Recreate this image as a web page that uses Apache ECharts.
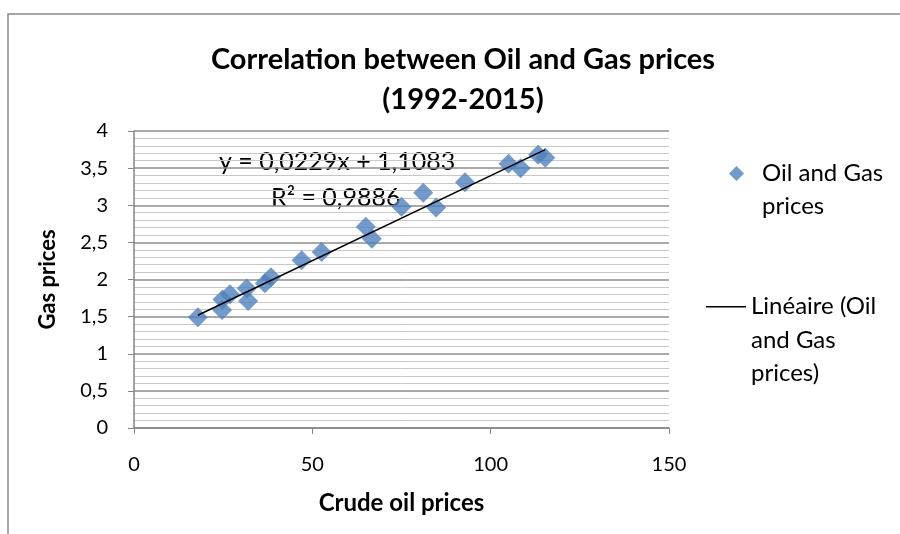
<!DOCTYPE html>
<html>
<head>
<meta charset="utf-8">
<script src="https://cdn.jsdelivr.net/npm/echarts@6/dist/echarts.min.js"></script>
<style>
  html, body { margin: 0; padding: 0; background: #fff; }
  #chart { width: 900px; height: 534px; }
</style>
</head>
<body>
<div id="chart"></div>
<script>
// crude oil price (x) and gas price (y)
var oilPrices = [17.9, 24.7, 24.8, 26.9, 31.6, 32.0, 36.7, 38.4, 47.0, 52.6,
                 65.0, 66.7, 75.0, 81.1, 84.7, 92.8, 105.0, 108.4, 113.3, 115.3];
var gasPrices = [1.49, 1.59, 1.73, 1.80, 1.88, 1.71, 1.95, 2.03, 2.26, 2.37,
                 2.71, 2.55, 2.98, 3.17, 2.97, 3.31, 3.56, 3.50, 3.68, 3.64];
var xTicks = [0, 50, 100, 150];
var yTicks = [0, 0.5, 1, 1.5, 2, 2.5, 3, 3.5, 4];
// trendline coefficients as printed on the chart
var slope = 0.0229;
var intercept = 1.1083;
var trendText = ['y = 0,0229x + 1,1083', 'R² = 0,9886'];

var FONT = 'Lato';

var points = oilPrices.map(function (x, i) { return [x, gasPrices[i]]; });
var xMin = Math.min.apply(null, oilPrices);
var xMax = Math.max.apply(null, oilPrices);
var trend = [[xMin, slope * xMin + intercept], [xMax, slope * xMax + intercept]];

var chart = echarts.init(document.getElementById('chart'));

chart.setOption({
  animation: false,
  textStyle: { fontFamily: FONT },
  title: {
    text: 'Correlation between Oil and Gas prices\n(1992-2015)',
    left: 458,
    textAlign: 'center',
    top: 35,
    textStyle: { fontSize: 29, fontWeight: 'bold', color: '#000', lineHeight: 40, fontFamily: FONT }
  },
  legend: [{
    // blank first line keeps the icon level with the first text line
    data: ['Oil and Gas prices'],
    left: 724,
    top: 119,
    orient: 'vertical',
    itemWidth: 15,
    itemHeight: 15,
    formatter: function () { return ' \nOil and Gas\nprices'; },
    textStyle: { fontSize: 24, color: '#000', lineHeight: 33, padding: [0, 0, 0, 13], fontFamily: FONT }
  }, {
    data: [{ name: 'Linéaire (Oil and Gas prices)', icon: 'rect' }],
    left: 701,
    top: 218,
    orient: 'vertical',
    itemWidth: 40,
    itemHeight: 1.5,
    formatter: function () { return ' \n \nLinéaire (Oil\nand Gas\nprices)'; },
    textStyle: { fontSize: 24, color: '#000', lineHeight: 33.5, fontFamily: FONT }
  }],
  grid: { left: 134, right: 231, top: 131, bottom: 106 },
  xAxis: {
    type: 'value',
    min: xTicks[0],
    max: xTicks[xTicks.length - 1],
    interval: 50,
    name: 'Crude oil prices',
    nameLocation: 'middle',
    nameGap: 63,
    nameTextStyle: { fontSize: 24, fontWeight: 'bold', color: '#000', fontFamily: FONT },
    axisLine: { lineStyle: { color: '#868686', width: 1.5 } },
    axisTick: { show: true, length: 6, lineStyle: { color: '#868686' } },
    axisLabel: { fontSize: 20, color: '#000', margin: 27 },
    splitLine: { show: false }
  },
  yAxis: {
    type: 'value',
    min: yTicks[0],
    max: yTicks[yTicks.length - 1],
    interval: 0.5,
    name: 'Gas prices',
    nameLocation: 'middle',
    nameGap: 75,
    nameTextStyle: { fontSize: 22, fontWeight: 'bold', color: '#000', fontFamily: FONT },
    axisLine: { show: true, lineStyle: { color: '#868686', width: 1.5 } },
    axisTick: { show: true, length: 6, lineStyle: { color: '#868686' } },
    axisLabel: {
      fontSize: 20, color: '#000', margin: 26,
      formatter: function (v) { return String(v).replace('.', ','); }
    },
    splitLine: { show: true, lineStyle: { color: '#8c8c8c', width: 1.5 } },
    minorTick: { show: false, splitNumber: 5 },
    minorSplitLine: { show: true, lineStyle: { color: '#c8c8c8', width: 1 } }
  },
  graphic: [{
    type: 'rect',
    shape: { x: 8, y: 14, width: 920, height: 560 },
    style: { fill: 'none', stroke: '#8a8a8a', lineWidth: 1.5 },
    silent: true
  }, {
    type: 'text',
    left: 219,
    top: 149,
    style: { text: trendText[0], fontSize: 25, fontFamily: FONT, fill: '#000' }
  }, {
    type: 'text',
    left: 271,
    top: 185,
    style: { text: trendText[1], fontSize: 25, fontFamily: FONT, fill: '#000' }
  }],
  series: [{
    name: 'Oil and Gas prices',
    type: 'scatter',
    symbol: 'diamond',
    symbolSize: 20,
    itemStyle: { color: '#4f81bd' },
    data: points,
    z: 3
  }, {
    name: 'Linéaire (Oil and Gas prices)',
    type: 'line',
    symbol: 'none',
    lineStyle: { color: '#000', width: 1.5 },
    itemStyle: { color: '#000' },
    data: trend,
    z: 4
  }]
});
</script>
</body>
</html>
